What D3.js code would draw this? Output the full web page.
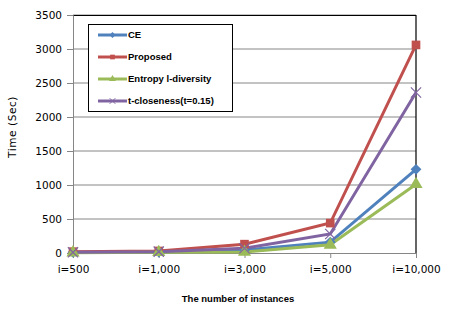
<!DOCTYPE html>
<html>
<head>
<meta charset="utf-8">
<script src="https://cdn.jsdelivr.net/npm/d3@7"></script>
<style>
    body { margin: 0; background: #fff; }
    svg { display: block; }
</style>
</head>
<body>
<div id="chart"></div>
<script>
// Chart data
const categories = ["i=500", "i=1,000", "i=3,000", "i=5,000", "i=10,000"];
const seriesNames = ["CE", "Proposed", "Entropy l-diversity", "t-closeness(t=0.15)"];
const ceValues = [10, 15, 45, 160, 1230];
const proposedValues = [20, 30, 130, 440, 3060];
const entropyValues = [5, 10, 15, 120, 1010];
const tclosenessValues = [10, 20, 70, 280, 2360];
const yTicks = [0, 500, 1000, 1500, 2000, 2500, 3000, 3500];

const colors = ["#4F81BD", "#C0504D", "#9BBB59", "#8064A2"];
const symbols = ["diamond", "square", "triangle", "cross"];

let margin = { top: 15, right: 48, bottom: 64, left: 73 };
let width = 464 - margin.left - margin.right;
let height = 317 - margin.top - margin.bottom;

const series = [ceValues, proposedValues, entropyValues, tclosenessValues].map((vals, i) => ({
    name: seriesNames[i],
    color: colors[i],
    symbol: symbols[i],
    values: vals.map((v, j) => ({ cat: categories[j], value: v })),
}));

const svg = d3
    .select("#chart")
    .append("svg")
    .attr("width", 464)
    .attr("height", 317)
    .append("g")
    .attr("transform", `translate(${margin.left},${margin.top})`);

const x = d3.scalePoint().domain(categories).range([0, width]).padding(0);
const y = d3.scaleLinear().domain([0, 3500]).range([height, 0]);

// gridlines
svg.append("g")
    .selectAll("line")
    .data(yTicks.slice(1))
    .join("line")
    .attr("x1", 0)
    .attr("x2", width)
    .attr("y1", (d) => y(d))
    .attr("y2", (d) => y(d))
    .attr("stroke", "#868686")
    .attr("stroke-width", 1);

// plot border (top/right black)
svg.append("path")
    .attr("d", `M0,0.5H${width}V${height}`)
    .attr("fill", "none")
    .attr("stroke", "#000")
    .attr("stroke-width", 1.2);

// y axis
const yAxis = svg.append("g")
    .call(d3.axisLeft(y).tickValues(yTicks).tickSize(6).tickPadding(5).tickFormat(d3.format("d")));
yAxis.select(".domain").attr("stroke", "#868686");
yAxis.selectAll(".tick line").attr("stroke", "#868686");
yAxis.selectAll("text")
    .attr("font-family", "DejaVu Sans, sans-serif")
    .attr("font-size", "10.5px")
    .attr("fill", "#000");

// x axis
const xAxis = svg.append("g")
    .attr("transform", `translate(0, ${height})`)
    .call(d3.axisBottom(x).tickSize(5).tickPadding(8).tickSizeOuter(0));
xAxis.select(".domain").attr("stroke", "#868686");
xAxis.selectAll(".tick line").attr("stroke", "#868686");
xAxis.selectAll("text")
    .attr("font-family", "DejaVu Sans, sans-serif")
    .attr("font-size", "10.5px")
    .attr("fill", "#000");

// lines
const line = d3.line()
    .x((d) => x(d.cat))
    .y((d) => y(d.value));

svg.append("g")
    .selectAll("path")
    .data(series)
    .join("path")
    .attr("d", (d) => line(d.values))
    .attr("fill", "none")
    .attr("stroke", (d) => d.color)
    .attr("stroke-width", 3);

function symbolPath(type, size) {
    if (type === "diamond") return d3.symbol(d3.symbolDiamond2, size)();
    if (type === "square") return d3.symbol(d3.symbolSquare, size)();
    if (type === "triangle") return d3.symbol(d3.symbolTriangle, size)();
    return d3.symbol(d3.symbolTimes, size)();
}

// markers
series.forEach((s) => {
    svg.append("g")
        .selectAll("path")
        .data(s.values)
        .join("path")
        .attr("transform", (d) => `translate(${x(d.cat)},${y(d.value)})`)
        .attr("d", symbolPath(s.symbol, s.symbol === "cross" ? 70 : 75))
        .attr("fill", s.symbol === "cross" ? "none" : s.color)
        .attr("stroke", s.color)
        .attr("stroke-width", s.symbol === "cross" ? 1.2 : 0);
});

// legend
const legend = svg.append("g").attr("transform", "translate(15, 9)");
legend.append("rect")
    .attr("x", 0.5)
    .attr("y", 0.5)
    .attr("width", 144)
    .attr("height", 87)
    .attr("fill", "#fff")
    .attr("stroke", "#000")
    .attr("stroke-width", 1);

const items = legend.selectAll("g.item")
    .data(series)
    .join("g")
    .attr("class", "item")
    .attr("transform", (d, i) => `translate(10, ${11 + i * 22})`);
items.append("line")
    .attr("x1", 0)
    .attr("x2", 29)
    .attr("stroke", (d) => d.color)
    .attr("stroke-width", 3);
items.append("path")
    .attr("transform", "translate(14.5,0)")
    .attr("d", (d) => symbolPath(d.symbol, 22))
    .attr("fill", (d) => (d.symbol === "cross" ? "none" : d.color))
    .attr("stroke", (d) => d.color)
    .attr("stroke-width", (d) => (d.symbol === "cross" ? 1 : 0));
items.append("text")
    .attr("x", 30)
    .attr("dy", "0.35em")
    .attr("font-family", "Liberation Sans, Arial, sans-serif")
    .attr("font-weight", "bold")
    .attr("font-size", "9.5px")
    .text((d) => d.name);

// axis titles
svg.append("text")
    .attr("transform", `translate(${12 - margin.left}, ${127 - margin.top}) rotate(-90)`)
    .attr("text-anchor", "middle")
    .attr("dy", "0.35em")
    .attr("font-family", "DejaVu Sans, sans-serif")
    .attr("font-size", "10.5px")
    .attr("letter-spacing", "0.6px")
    .text("Time (Sec)");

svg.append("text")
    .attr("x", 238 - margin.left)
    .attr("y", 299 - margin.top)
    .attr("text-anchor", "middle")
    .attr("dy", "0.35em")
    .attr("font-family", "Liberation Sans, Arial, sans-serif")
    .attr("font-weight", "bold")
    .attr("font-size", "9.5px")
    .text("The number of instances");
</script>
</body>
</html>
